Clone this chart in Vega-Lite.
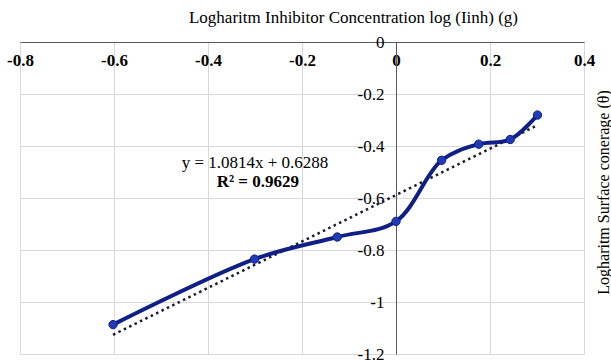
{
  "$schema": "https://vega.github.io/schema/vega-lite/v6.json",
  "width": 564,
  "height": 312,
  "autosize": {"type": "none"},
  "padding": {"left": 20, "top": 42, "right": 27, "bottom": 7},
  "background": "white",
  "config": {
    "view": {"stroke": null},
    "font": "Liberation Serif",
    "axis": {"labelFont": "Liberation Serif", "titleFont": "Liberation Serif", "gridColor": "#d9d9d9", "gridWidth": 1, "domainColor": "#595959", "ticks": false, "labelFlush": false, "labelOverlap": false}
  },
  "datasets": {
    "pts": [
      {"x": -0.602, "y": -1.087},
      {"x": -0.301, "y": -0.835},
      {"x": -0.125, "y": -0.75},
      {"x": 0.0, "y": -0.69},
      {"x": 0.097, "y": -0.455},
      {"x": 0.176, "y": -0.393},
      {"x": 0.243, "y": -0.375},
      {"x": 0.301, "y": -0.281}
    ],
    "trend": [
      {"x": -0.602, "y": -1.126},
      {"x": 0.301, "y": -0.32}
    ],
    "eq": [
      {"x": -0.3, "y": -0.465, "t": "y = 1.0814x + 0.6288"}
    ],
    "r2": [
      {"x": -0.294, "y": -0.54, "t": "R² = 0.9629"}
    ]
  },
  "layer": [
    {
      "data": {"name": "trend"},
      "mark": {"type": "line", "color": "#1a1a2e", "strokeWidth": 2.5, "strokeDash": [2.5, 3.5]},
      "encoding": {
        "x": {
          "field": "x", "type": "quantitative",
          "scale": {"domain": [-0.8, 0.4], "nice": false, "zero": false},
          "axis": {
            "orient": "bottom", "offset": -312, "values": [-0.8, -0.6, -0.4, -0.2, 0, 0.2, 0.4],
            "labelExpr": "datum.value == 0 ? '0' : (datum.value < 0 ? '-' : '') + format(abs(datum.value), '~g')",
            "labelFontWeight": "bold", "labelFontSize": 17, "labelColor": "#000", "labelPadding": 10,
            "title": "Logharitm Inhibitor Concentration log (Iinh) (g)",
            "titleFontWeight": "normal", "titleFontSize": 17, "titleColor": "#000",
            "titleX": 333, "titleY": -16, "titleAlign": "center", "titleBaseline": "bottom",
            "domainWidth": 1
          }
        },
        "y": {
          "field": "y", "type": "quantitative",
          "scale": {"domain": [-1.2, 0], "nice": false, "zero": false},
          "axis": {
            "orient": "left", "offset": -376, "values": [-1.2, -1, -0.8, -0.6, -0.4, -0.2, 0],
            "labelExpr": "datum.value == 0 ? '0' : (datum.value < 0 ? '-' : '') + format(abs(datum.value), '~g')",
            "labelFontSize": 17, "labelColor": "#000", "labelPadding": 12,
            "title": "Logharitm Surface conerage (θ)",
            "titleFontWeight": "normal", "titleFontSize": 16, "titleColor": "#000",
            "titleAngle": -90, "titleX": 207, "titleY": 150, "titleAlign": "center", "titleBaseline": "middle",
            "domainWidth": 1
          }
        }
      }
    },
    {
      "data": {"name": "pts"},
      "mark": {"type": "line", "interpolate": "catmull-rom", "color": "#0f1f86", "strokeWidth": 4},
      "encoding": {
        "x": {"field": "x", "type": "quantitative"},
        "y": {"field": "y", "type": "quantitative"}
      }
    },
    {
      "data": {"name": "pts"},
      "mark": {"type": "point", "filled": true, "shape": "circle", "size": 70, "color": "#1f3cb5", "opacity": 1, "stroke": "#0f1f86", "strokeWidth": 1},
      "encoding": {
        "x": {"field": "x", "type": "quantitative"},
        "y": {"field": "y", "type": "quantitative"}
      }
    },
    {
      "data": {"name": "eq"},
      "mark": {"type": "text", "align": "center", "baseline": "middle", "fontSize": 17, "color": "#000"},
      "encoding": {
        "x": {"field": "x", "type": "quantitative"},
        "y": {"field": "y", "type": "quantitative"},
        "text": {"field": "t"}
      }
    },
    {
      "data": {"name": "r2"},
      "mark": {"type": "text", "align": "center", "baseline": "middle", "fontSize": 17, "fontWeight": "bold", "color": "#000"},
      "encoding": {
        "x": {"field": "x", "type": "quantitative"},
        "y": {"field": "y", "type": "quantitative"},
        "text": {"field": "t"}
      }
    }
  ]
}
